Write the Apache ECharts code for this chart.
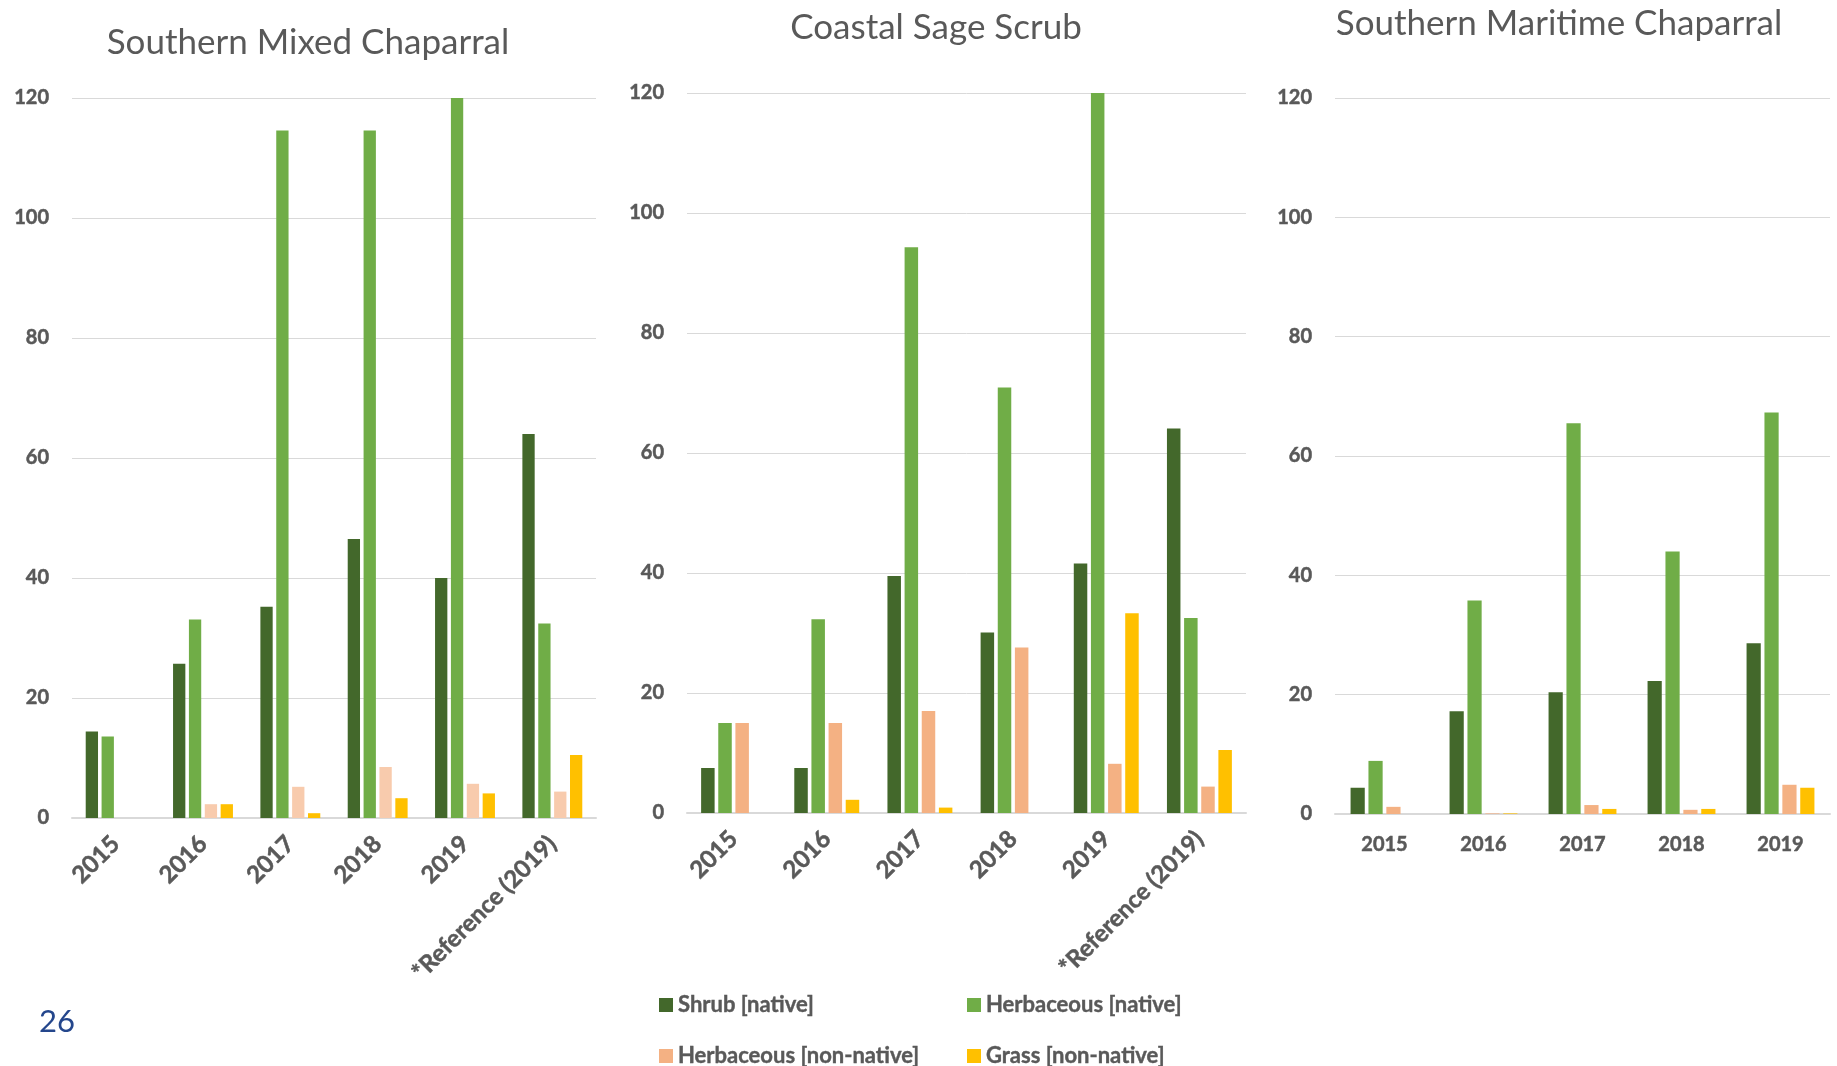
<!DOCTYPE html>
<html>
<head>
<meta charset="utf-8">
<title>Vegetation cover by habitat</title>
<script src="https://cdn.jsdelivr.net/npm/echarts@6/dist/echarts.min.js"></script>
<style>
  html, body { margin: 0; padding: 0; background: #ffffff; }
  #chart { width: 1837px; height: 1066px; }
</style>
</head>
<body>
<div id="chart"></div>
<script>
// Categories
const yearsWithRef = ['2015', '2016', '2017', '2018', '2019', '*Reference (2019)'];
const yearsOnly = ['2015', '2016', '2017', '2018', '2019'];
const yTicks = [0, 20, 40, 60, 80, 100, 120];

// Series names
const seriesNames = ['Shrub [native]', 'Herbaceous [native]', 'Herbaceous [non-native]', 'Grass [non-native]'];

// Southern Mixed Chaparral
const smcShrub = [14.4, 25.7, 35.2, 46.5, 40.0, 64.0];
const smcHerbNative = [13.6, 33.1, 114.6, 114.6, 120.0, 32.4];
const smcHerbNonNative = [null, 2.3, 5.2, 8.5, 5.7, 4.4];
const smcGrass = [null, 2.3, 0.8, 3.3, 4.1, 10.5];

// Coastal Sage Scrub
const cssShrub = [7.5, 7.5, 39.5, 30.1, 41.6, 64.1];
const cssHerbNative = [15.0, 32.3, 94.3, 70.9, 120.0, 32.5];
const cssHerbNonNative = [15.0, 15.0, 17.0, 27.6, 8.2, 4.4];
const cssGrass = [null, 2.2, 0.9, null, 33.3, 10.5];

// Southern Maritime Chaparral
const smtShrub = [4.4, 17.2, 20.4, 22.3, 28.6];
const smtHerbNative = [8.9, 35.8, 65.5, 44.0, 67.3];
const smtHerbNonNative = [1.2, 0.1, 1.5, 0.7, 4.9];
const smtGrass = [null, 0.1, 0.85, 0.85, 4.4];

const FONT = 'Lato';
const TEXT_GREY = '#595959';
const GRID_GREY = '#D9D9D9';
const colShrub = '#43682B';
const colHerbNative = '#70AD47';
const colHerbNonNative = '#F4B183';
const colHerbNonNativeLight = '#F8CBAD';
const colGrass = '#FFC000';
const seriesColors = [colShrub, colHerbNative, colHerbNonNative, colGrass];

const chart = echarts.init(document.getElementById('chart'), null, { renderer: 'canvas' });

// Bold axis text, with a hairline outline for a heavier look
const axisText = {
  color: TEXT_GREY,
  fontFamily: FONT,
  fontWeight: 'bold',
  textBorderColor: TEXT_GREY,
  textBorderWidth: 0.5
};

function yAxisFor(gridIndex) {
  return {
    type: 'value',
    gridIndex: gridIndex,
    min: yTicks[0],
    max: yTicks[yTicks.length - 1],
    interval: yTicks[1] - yTicks[0],
    axisLine: { show: false },
    axisTick: { show: false },
    splitLine: { lineStyle: { color: GRID_GREY, width: 1 } },
    axisLabel: Object.assign({ margin: 23, fontSize: 20 }, axisText)
  };
}

function xAxisFor(gridIndex, cats, rotate) {
  return {
    type: 'category',
    gridIndex: gridIndex,
    data: cats,
    axisTick: { show: false },
    axisLine: { show: true, lineStyle: { color: GRID_GREY, width: 2 } },
    axisLabel: Object.assign({
      interval: 0,
      rotate: rotate,
      margin: rotate ? 22 : 21,
      fontSize: rotate ? 24 : 20
    }, axisText)
  };
}

function barsFor(axisIndex, values, colors, barWidth, barGap) {
  return values.map((vals, i) => ({
    type: 'bar',
    name: seriesNames[i],
    xAxisIndex: axisIndex,
    yAxisIndex: axisIndex,
    data: vals,
    barWidth: barWidth,
    barGap: barGap,
    itemStyle: { color: colors[i] },
    emphasis: { disabled: true }
  }));
}

const titleStyle = { fontFamily: FONT, fontSize: 35, fontWeight: 'normal', color: TEXT_GREY };

// One legend entry per block so the two columns line up
const legendSlots = [
  { left: 659, top: 993 },
  { left: 967, top: 993 },
  { left: 659, top: 1044 },
  { left: 967, top: 1044 }
];

const option = {
  animation: false,
  backgroundColor: '#ffffff',
  title: [
    { text: 'Southern Mixed Chaparral', left: 308, top: 25, textAlign: 'center', padding: 0, textStyle: titleStyle },
    { text: 'Coastal Sage Scrub', left: 936, top: 10, textAlign: 'center', padding: 0, textStyle: titleStyle },
    { text: 'Southern Maritime Chaparral', left: 1559, top: 6, textAlign: 'center', padding: 0, textStyle: titleStyle }
  ],
  legend: seriesNames.map((name, k) => ({
    left: legendSlots[k].left,
    top: legendSlots[k].top,
    padding: 0,
    itemWidth: 14,
    itemHeight: 14,
    icon: 'rect',
    selectedMode: false,
    textStyle: {
      fontFamily: FONT, fontWeight: 'bold', fontSize: 22, color: TEXT_GREY, lineHeight: 24,
      textBorderColor: TEXT_GREY, textBorderWidth: 0.4
    },
    data: [{ name: name, itemStyle: { color: seriesColors[k] } }]
  })),
  grid: [
    { left: 72, top: 98, width: 524, height: 720 },
    { left: 687, top: 93, width: 559, height: 720 },
    { left: 1335, top: 98, width: 495, height: 716 }
  ],
  xAxis: [
    xAxisFor(0, yearsWithRef, 45),
    xAxisFor(1, yearsWithRef, 45),
    xAxisFor(2, yearsOnly, 0)
  ],
  yAxis: [yAxisFor(0), yAxisFor(1), yAxisFor(2)],
  series: [].concat(
    barsFor(0, [smcShrub, smcHerbNative, smcHerbNonNative, smcGrass],
      [colShrub, colHerbNative, colHerbNonNativeLight, colGrass], 12.3, '29%'),
    barsFor(1, [cssShrub, cssHerbNative, cssHerbNonNative, cssGrass],
      seriesColors, 13.5, '27%'),
    barsFor(2, [smtShrub, smtHerbNative, smtHerbNonNative, smtGrass],
      seriesColors, 14.2, '26%')
  ),
  graphic: [
    {
      type: 'text',
      left: 39,
      top: 1006,
      style: { text: '26', fontFamily: FONT, fontSize: 31, fill: '#24468C' }
    }
  ]
};

chart.setOption(option);
</script>
</body>
</html>
